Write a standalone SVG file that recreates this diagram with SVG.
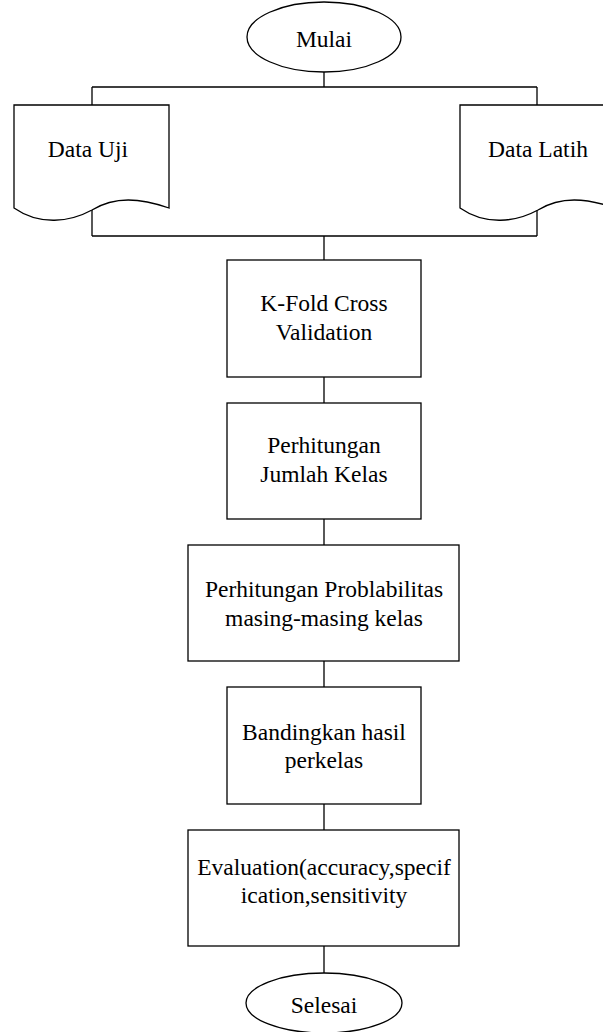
<svg xmlns="http://www.w3.org/2000/svg" width="603" height="1032" viewBox="0 0 603 1032">
<style>
.s{fill:#fff;stroke:#000;stroke-width:1.3}
.c{fill:none;stroke:#000;stroke-width:1.3}
text{font-family:"Liberation Serif","Times New Roman",serif;font-size:23.5px;fill:#000;text-anchor:middle}
</style>
<rect width="603" height="1032" fill="#fff"/>
<g id="connectors">
<path class="c" d="M324,72V87M92,87H537M92,87V105M537,87V105"/>
<path class="c" d="M92,210V236M537,210V236M92,236H537M324,236V260"/>
<path class="c" d="M324,377V403M324,519V545M324,661V687M324,804V830M324,946V973"/>
</g>
<g id="mulai"><ellipse class="s" cx="324" cy="37" rx="77" ry="35"/><text x="324" y="47">Mulai</text></g>
<g id="data-uji"><path class="s" d="M14,105H169V208C140,198 115,196 92,210C70,222 40,226 14,208Z"/><text x="88" y="157">Data Uji</text></g>
<g id="data-latih"><path class="s" d="M460,105H615V208C586,198 561,196 538,210C516,222 486,226 460,208Z"/><text x="538" y="157">Data Latih</text></g>
<g id="kfold"><rect class="s" x="227" y="260" width="194" height="117"/><text x="324" y="311">K-Fold Cross</text><text x="324" y="340">Validation</text></g>
<g id="jumlah"><rect class="s" x="227" y="403" width="194" height="116"/><text x="324" y="453">Perhitungan</text><text x="324" y="482">Jumlah Kelas</text></g>
<g id="prob"><rect class="s" x="188" y="545" width="271" height="116"/><text x="324" y="597">Perhitungan Problabilitas</text><text x="324" y="626">masing-masing kelas</text></g>
<g id="banding"><rect class="s" x="227" y="687" width="194" height="117"/><text x="324" y="740">Bandingkan hasil</text><text x="324" y="768">perkelas</text></g>
<g id="eval"><rect class="s" x="188" y="830" width="271" height="116"/><text x="324" y="875">Evaluation(accuracy,specif</text><text x="324" y="903">ication,sensitivity</text></g>
<g id="selesai"><ellipse class="s" cx="324" cy="1003" rx="78" ry="30"/><text x="324" y="1013">Selesai</text></g>
</svg>
